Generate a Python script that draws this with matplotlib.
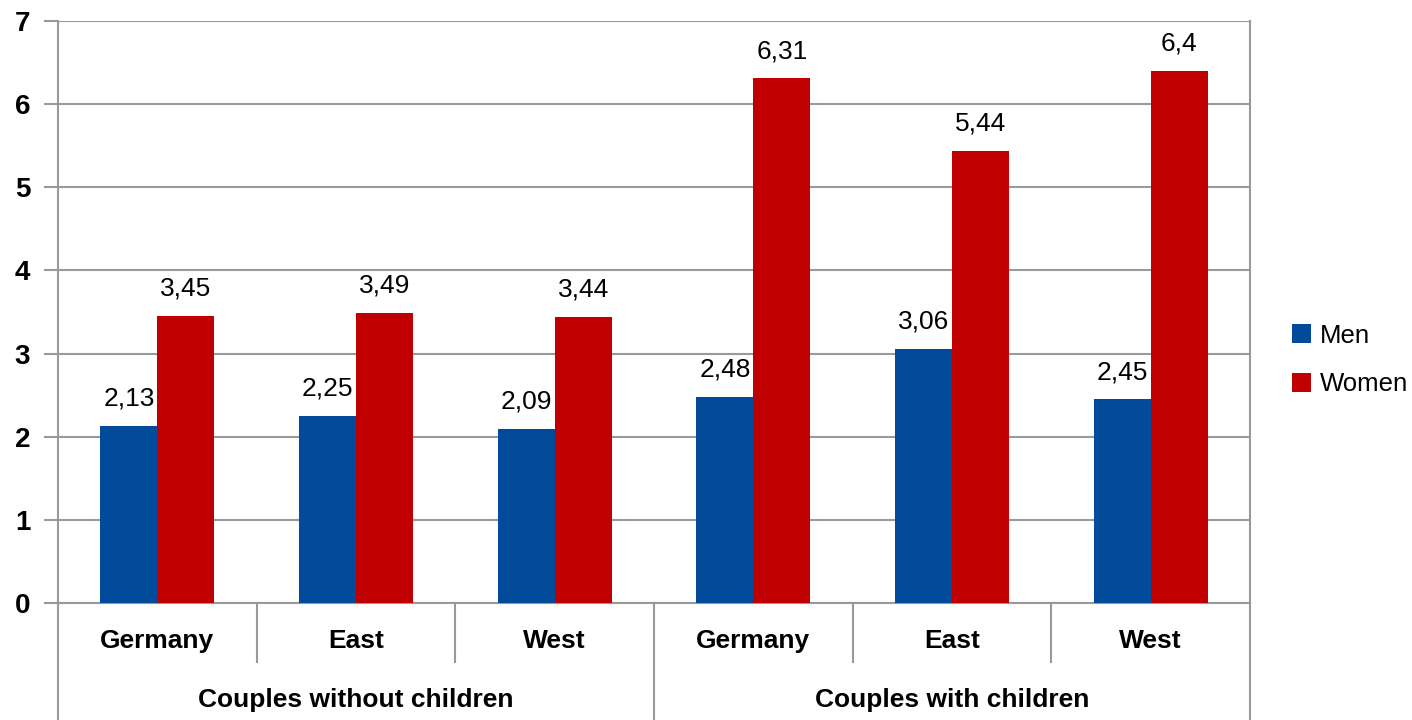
import matplotlib
matplotlib.use("Agg")
import matplotlib.pyplot as plt
from matplotlib import font_manager
from matplotlib.patches import Patch
import matplotlib.transforms as mtransforms

regions = ["Germany", "East", "West", "Germany", "East", "West"]
groups = ["Couples without children", "Couples with children"]
men = [2.13, 2.25, 2.09, 2.48, 3.06, 2.45]
women = [3.45, 3.49, 3.44, 6.31, 5.44, 6.4]
yticks = [0, 1, 2, 3, 4, 5, 6, 7]

names = {f.name for f in font_manager.fontManager.ttflist}
family = [f for f in ["Liberation Sans Narrow", "Liberation Sans", "DejaVu Sans"] if f in names]
plt.rcParams["font.family"] = family

BLUE = "#024B9B"
RED = "#C00000"
GRID = "#999999"

W, H = 1412, 720
fig = plt.figure(figsize=(W / 100, H / 100), dpi=100)
ax = fig.add_axes([58 / W, (H - 603) / H, 1192 / W, 582 / H])

n = len(regions)
x = list(range(n))
bw = 0.287
ax.bar([i - bw / 2 for i in x], men, width=bw, color=BLUE, zorder=3)
ax.bar([i + bw / 2 for i in x], women, width=bw, color=RED, zorder=3)

def fmt(v):
    return f"{v:g}".replace(".", ",")

for i in x:
    ax.annotate(fmt(men[i]), (i - bw / 2, men[i]), xytext=(0, 11), textcoords="offset points",
                ha="center", va="bottom", fontsize=19)
    ax.annotate(fmt(women[i]), (i + bw / 2, women[i]), xytext=(0, 11), textcoords="offset points",
                ha="center", va="bottom", fontsize=19)

ax.set_xlim(-0.5, n - 0.5)
ax.set_ylim(0, 7)
ax.set_yticks(yticks)
ax.set_yticklabels([str(t) for t in yticks], fontsize=20, fontweight="bold")
ax.tick_params(axis="y", length=10, width=1.5, color=GRID, pad=10)
ax.set_xticks([])
ax.grid(axis="y", color=GRID, linewidth=1.5, zorder=0)
ax.set_axisbelow(True)
for side in ["top", "right"]:
    ax.spines[side].set_visible(False)
ax.spines["left"].set_color(GRID)
ax.spines["left"].set_linewidth(1.5)
ax.spines["bottom"].set_color(GRID)
ax.spines["bottom"].set_linewidth(1.5)
ax.plot([n - 0.5, n - 0.5], [0, 7], color=GRID, lw=1.5, clip_on=False, zorder=1)

# multi-level category axis below the plot
trans = mtransforms.blended_transform_factory(ax.transData, fig.transFigure)
y0 = (H - 603) / H
y_inner = (H - 662) / H
for b in range(1, n):
    bottom = 0 if b == 3 else y_inner
    ax.plot([b - 0.5, b - 0.5], [y0, bottom], color=GRID, lw=1.5, transform=trans, clip_on=False)
for b in (-0.5, n - 0.5):
    ax.plot([b, b], [y0, 0], color=GRID, lw=1.5, transform=trans, clip_on=False)

for i, r in enumerate(regions):
    ax.text(i, (H - 641) / H, r, transform=trans, ha="center", va="center",
            fontsize=19, fontweight="bold")
for g, name in enumerate(groups):
    ax.text(g * 3 + 1, (H - 700) / H, name, transform=trans, ha="center", va="center",
            fontsize=19, fontweight="bold")

handles = [Patch(facecolor=BLUE, label="Men"), Patch(facecolor=RED, label="Women")]
fig.legend(handles=handles, loc="center left", bbox_to_anchor=(1292 / W, (H - 360) / H),
           frameon=False, fontsize=18.5, handlelength=0.75, handleheight=0.75,
           handletextpad=0.35, labelspacing=0.95, borderpad=0, borderaxespad=0)

fig.savefig("out.png", dpi=100)
